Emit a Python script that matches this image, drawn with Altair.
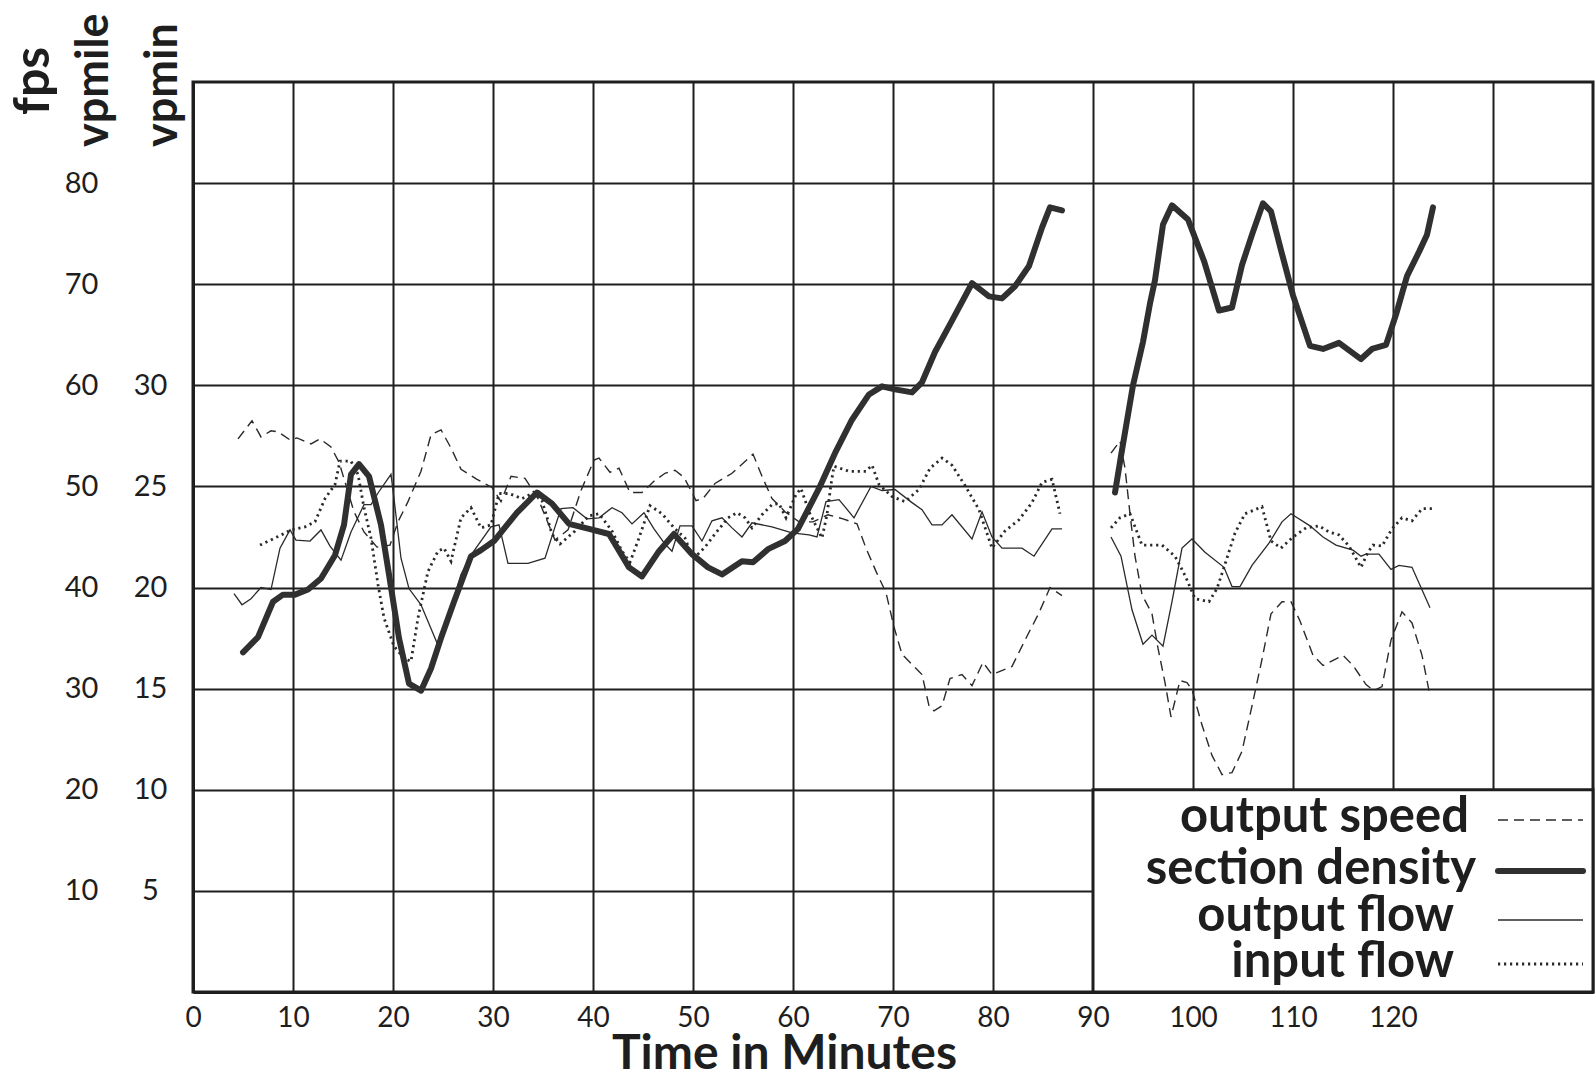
import altair as alt
import pandas as pd

# ---------------- data (values read on the left "fps" scale of the chart) ----------------
density_t_1 = [5.0, 6.5, 8.0, 9.0, 10.2, 11.5, 12.8, 14.2, 15.1, 15.8, 16.6, 17.6, 18.8, 19.6, 20.6, 21.6,
               22.8, 23.8, 24.8, 26.1, 27.8, 28.8, 30.1, 32.4, 34.4, 35.9, 37.6, 39.6, 41.6, 43.6, 44.9,
               46.6, 48.1, 49.9, 51.5, 52.9, 54.9, 56.0, 57.5, 59.2, 60.5, 62.6, 64.3, 65.9, 67.6, 68.9,
               70.2, 71.9, 72.9, 74.2, 75.9, 77.9, 79.6, 80.9, 82.2, 83.6, 84.9, 85.7, 86.9]
density_v_1 = [33.6, 35.1, 38.6, 39.3, 39.3, 39.8, 40.9, 43.2, 46.2, 51.2, 52.2, 51.0, 46.2, 41.3, 35.0, 30.5,
               29.8, 32.0, 35.0, 38.6, 43.1, 43.7, 44.6, 47.4, 49.4, 48.3, 46.3, 45.8, 45.3, 42.0, 41.1,
               43.6, 45.3, 43.3, 42.0, 41.3, 42.6, 42.5, 43.8, 44.6, 45.8, 49.8, 53.5, 56.6, 59.1, 59.9,
               59.6, 59.3, 60.3, 63.3, 66.4, 70.1, 68.8, 68.6, 69.8, 71.8, 75.6, 77.6, 77.3]
density_t_2 = [92.2, 92.8, 94.0, 95.0, 95.7, 96.2, 97.0, 97.9, 99.5, 101.1, 102.6, 103.9, 104.9, 105.9,
               107.0, 107.8, 108.9, 110.0, 111.7, 113.0, 114.6, 116.8, 117.9, 119.3, 120.3, 121.4, 122.6,
               123.4, 124.0]
density_v_2 = [49.4, 53.0, 60.0, 64.3, 68.1, 70.4, 75.9, 77.8, 76.4, 72.3, 67.4, 67.7, 71.9, 74.9,
               78.0, 77.2, 73.0, 68.9, 63.9, 63.6, 64.2, 62.6, 63.6, 64.0, 67.0, 70.8, 73.2,
               74.9, 77.6]

speed_t_1 = [4.5, 5.9, 6.8, 7.8, 8.5, 9.7, 10.4, 11.8, 12.7, 13.8, 14.6, 16.1, 17.1, 18.4, 19.7, 20.5,
             21.5, 22.8, 23.8, 24.8, 25.8, 26.8, 28.4, 29.9, 30.8, 31.8, 33.2, 34.5, 36.2, 37.5, 38.8,
             40.1, 40.6, 41.7, 42.6, 43.7, 44.9, 46.2, 47.2, 48.2, 49.1, 49.9, 50.3, 51.0, 52.2, 53.9,
             56.0, 56.9, 57.9, 59.2, 60.6, 62.0, 63.5, 65.0, 66.4, 67.3, 68.3, 69.3, 70.1, 70.9, 71.9,
             72.9, 73.6, 74.1, 74.9, 75.7, 76.9, 77.9, 79.0, 79.9, 81.9, 83.2, 84.6, 85.7, 86.9]
speed_v_1 = [54.7, 56.5, 54.9, 55.5, 55.4, 54.6, 54.8, 54.2, 54.7, 53.9, 52.4, 47.5, 45.5, 44.0, 44.2, 46.5,
             48.5, 51.5, 55.1, 55.6, 53.8, 51.7, 50.7, 49.9, 48.5, 51.0, 50.8, 48.8, 44.7, 45.7, 49.6,
             52.6, 52.8, 51.4, 51.8, 49.4, 49.4, 50.6, 51.3, 51.6, 50.9, 49.4, 48.6, 48.8, 50.3, 51.3,
             53.2, 51.0, 48.8, 47.5, 46.5, 46.5, 47.2, 46.8, 46.3, 43.9, 41.6, 39.5, 36.1, 33.4, 32.4,
             31.4, 28.3, 27.8, 28.3, 31.0, 31.4, 30.3, 32.6, 31.4, 32.2, 34.8, 37.5, 40.0, 39.2]
speed_t_2 = [91.8, 92.7, 93.2, 93.7, 94.2, 94.9, 95.9, 96.5, 97.2, 97.8, 98.7, 99.4, 99.9, 100.9, 101.9,
             102.9, 103.9, 104.9, 105.9, 106.9, 107.8, 108.9, 109.8, 110.7, 112.0, 113.0, 115.0, 116.0,
             117.3, 118.1, 118.9, 119.8, 120.9, 121.9, 122.9, 123.7]
speed_v_2 = [53.3, 54.5, 51.8, 47.3, 43.1, 39.3, 37.4, 34.0, 30.6, 27.2, 30.8, 30.6, 29.9, 26.4, 23.4,
             21.5, 21.7, 23.8, 28.3, 32.9, 37.4, 38.6, 38.6, 36.7, 33.3, 32.3, 33.3, 32.3,
             30.4, 29.8, 30.2, 34.8, 37.6, 36.5, 33.3, 29.3]

outflow_t_1 = [4.1, 4.9, 5.8, 6.8, 7.8, 8.7, 9.7, 10.3, 11.7, 12.8, 13.7, 14.8, 15.8, 17.1, 17.8, 18.6,
               19.8, 20.1, 20.8, 21.6, 22.8, 24.5, 25.2, 26.8, 27.8, 29.8, 30.6, 31.5, 33.5, 35.2, 36.2,
               36.8, 38.0, 39.4, 40.6, 41.9, 42.9, 43.9, 45.1, 46.1, 47.2, 47.9, 48.7, 49.9, 50.9, 51.9,
               52.9, 53.9, 54.9, 55.9, 57.9, 59.9, 61.6, 62.4, 63.3, 64.6, 66.1, 67.8, 68.9, 70.2, 71.9,
               72.9, 73.9, 74.9, 75.9, 77.9, 78.9, 79.9, 80.9, 82.9, 84.1, 85.9, 86.9]
outflow_v_1 = [39.4, 38.3, 38.9, 40.0, 39.8, 43.9, 45.7, 44.7, 44.6, 45.7, 44.1, 42.7, 45.5, 48.2, 48.2, 49.5,
               51.2, 48.8, 42.9, 39.9, 38.3, 34.3, 36.0, 41.3, 43.2, 46.0, 46.2, 42.4, 42.4, 42.9, 46.0,
               47.8, 47.9, 46.8, 46.9, 47.9, 47.4, 46.3, 47.4, 45.8, 44.3, 43.6, 46.1, 46.1, 44.6, 46.6,
               46.9, 45.9, 45.0, 46.4, 46.0, 45.4, 45.2, 45.0, 48.5, 48.7, 46.9, 50.0, 49.6, 49.7, 48.4,
               47.7, 46.2, 46.2, 47.2, 44.8, 47.5, 45.0, 43.9, 43.9, 43.1, 45.8, 45.8]
outflow_t_2 = [91.8, 92.8, 93.9, 95.0, 95.9, 97.0, 97.9, 98.9, 99.9, 101.2, 103.1, 103.9, 104.7, 105.9,
               107.6, 108.9, 109.8, 111.7, 113.0, 114.3, 116.0, 116.8, 117.3, 118.6, 119.8, 120.6, 121.9,
               123.7]
outflow_v_2 = [45.0, 43.1, 37.8, 34.4, 35.3, 34.2, 38.6, 43.9, 44.8, 43.5, 42.0, 40.1, 40.1, 42.2,
               44.4, 46.5, 47.3, 46.1, 45.0, 44.2, 43.7, 43.1, 43.3, 43.3, 41.8, 42.2, 42.0,
               38.0]

inflow_t_1 = [6.7, 8.2, 9.8, 11.2, 12.2, 13.2, 14.2, 14.7, 15.8, 16.5, 17.1, 17.8, 18.5, 19.1, 20.1, 21.1,
              21.8, 22.5, 23.5, 24.5, 25.1, 25.8, 26.8, 27.8, 28.8, 29.8, 30.6, 31.6, 32.9, 34.1, 34.9,
              35.9, 36.7, 38.2, 39.6, 40.6, 41.9, 42.9, 43.7, 44.6, 45.7, 46.9, 48.2, 49.2, 50.0, 51.2,
              52.2, 53.5, 54.4, 55.2, 55.9, 56.9, 57.9, 58.6, 59.3, 60.3, 60.8, 61.6, 62.9, 63.4, 63.8,
              64.1, 65.6, 67.3, 67.9, 68.6, 69.9, 71.2, 72.6, 73.7, 74.9, 75.9, 77.2, 78.6, 79.9, 81.2,
              82.6, 83.9, 84.9, 85.9, 86.7]
inflow_v_1 = [44.2, 44.9, 45.7, 46.0, 46.5, 48.8, 50.2, 52.5, 52.5, 51.2, 47.9, 44.9, 40.3, 37.0, 34.2, 33.0,
              32.7, 37.0, 41.6, 43.6, 43.9, 42.6, 46.9, 47.9, 45.9, 46.2, 49.3, 49.3, 48.8, 49.4, 48.6,
              45.3, 44.3, 45.6, 47.1, 47.3, 45.6, 43.6, 42.5, 44.9, 48.1, 47.3, 45.8, 44.9, 42.8, 44.0,
              45.3, 46.9, 47.4, 46.9, 45.9, 47.2, 48.2, 48.3, 46.9, 49.2, 49.8, 47.5, 44.9, 47.2, 50.2,
              52.0, 51.5, 51.5, 52.1, 50.2, 49.0, 48.5, 49.7, 51.8, 52.8, 52.1, 50.1, 47.7, 43.9, 45.6,
              46.7, 48.4, 50.4, 50.7, 47.3]
inflow_t_2 = [91.8, 92.7, 93.7, 94.9, 96.9, 98.2, 99.2, 100.2, 101.6, 102.4, 103.2, 104.2, 105.2, 106.2,
              106.9, 107.8, 108.8, 110.0, 111.3, 112.6, 113.6, 114.6, 115.6, 116.8, 117.5, 118.0, 118.9,
              119.9, 120.9, 121.9, 122.9, 123.9]
inflow_v_2 = [45.9, 46.9, 47.3, 44.2, 44.2, 43.1, 41.2, 38.9, 38.6, 39.9, 42.3, 45.4, 47.3, 47.7,
              48.0, 44.6, 43.9, 45.0, 45.9, 46.1, 45.5, 45.2, 44.1, 42.0, 43.5, 44.2, 44.1,
              45.8, 46.9, 46.6, 47.8, 47.8]

x_ticks = [0, 10, 20, 30, 40, 50, 60, 70, 80, 90, 100, 110, 120, 130]
x_last_label = 120
fps_ticks = [10, 20, 30, 40, 50, 60, 70, 80]
vpmile_ticks = [10, 20, 30, 40, 50, 60]          # positions on fps scale, labelled value/2
column_titles = ["fps", "vpmile", "vpmin"]
legend_labels = ["output speed", "section density", "output flow", "input flow"]
x_title = "Time in Minutes"


def series_df(parts):
    rows = []
    for i, (ts, vs) in enumerate(parts):
        for t, v in zip(ts, vs):
            rows.append({"part": i, "t": t, "v": v})
    return pd.DataFrame(rows)


speed_df = series_df([(speed_t_1, speed_v_1), (speed_t_2, speed_v_2)])
density_df = series_df([(density_t_1, density_v_1), (density_t_2, density_v_2)])
outflow_df = series_df([(outflow_t_1, outflow_v_1), (outflow_t_2, outflow_v_2)])
inflow_df = series_df([(inflow_t_1, inflow_v_1), (inflow_t_2, inflow_v_2)])

# ---------------- styling ----------------
W, H = 1400, 910
FONT = "Lato"
INK = "#1e1e1e"
LINE = "#2a2a2a"

x_scale = alt.Scale(domain=[0, 140], nice=False, zero=False)
y_scale = alt.Scale(domain=[0, 90], nice=False, zero=False)

x_axis = alt.Axis(
    values=x_ticks,
    labelExpr=f"datum.value <= {x_last_label} ? datum.label : ''",
    grid=True, gridColor=INK, gridWidth=2, gridOpacity=1,
    domain=True, domainColor=INK, domainWidth=3,
    ticks=False, tickSize=0, labelPadding=12,
    labelFont=FONT, labelFontSize=28, labelColor=INK, labelFlush=False,
    title=x_title, titleFont=FONT, titleFontSize=48, titleFontWeight="bold", titleColor=INK,
    titleX=591, titleY=76, titleAlign="center", titleBaseline="alphabetic", titleAnchor="start",
)
y_axis = alt.Axis(
    values=fps_ticks,
    grid=True, gridColor=INK, gridWidth=2, gridOpacity=1,
    domain=True, domainColor=INK, domainWidth=3,
    ticks=False, tickSize=0, labelPadding=112, labelAlign="center", labelBaseline="middle",
    labelFont=FONT, labelFontSize=29, labelColor=INK, title=None,
)
vpmile_axis = alt.Axis(
    orient="left", values=vpmile_ticks, labelExpr="datum.value / 2",
    grid=False, domain=False, ticks=False, tickSize=0,
    labelPadding=43, labelAlign="center", labelBaseline="middle",
    labelFont=FONT, labelFontSize=29, labelColor=INK, title=None,
)

styles = {
    "speed": dict(stroke=LINE, strokeWidth=1.4, strokeDash=[10, 6]),
    "density": dict(stroke="#303030", strokeWidth=6, strokeCap="round", strokeJoin="round"),
    "outflow": dict(stroke=LINE, strokeWidth=1.3),
    "inflow": dict(stroke=LINE, strokeWidth=2.8, strokeDash=[2.2, 3.8]),
}


def line_layer(df, style):
    return alt.Chart(df).mark_line(**style).encode(
        x=alt.X("t:Q", scale=x_scale, axis=x_axis),
        y=alt.Y("v:Q", scale=y_scale, axis=y_axis),
        detail="part:N",
        order="t:Q",
    )


layers = [
    line_layer(speed_df, styles["speed"]),
    line_layer(inflow_df, styles["inflow"]),
    line_layer(outflow_df, styles["outflow"]),
    line_layer(density_df, styles["density"]),
]

one = pd.DataFrame({"k": [0]})

# legend box (white panel over the lower-right grid cells, minutes 90-140, 0-20 on the scale)
layers.append(
    alt.Chart(one).mark_rect(fill="white", stroke=INK, strokeWidth=3).encode(
        x=alt.value(W * 90 / 140), x2=alt.value(W), y=alt.value(H - H * 20 / 90), y2=alt.value(H)
    )
)

leg_text_x = [1276, 1283, 1261, 1261]
leg_text_y = [750, 802, 849, 895]
leg_sym_y = [738, 789, 838, 882]
leg_styles = [styles["speed"], styles["density"], styles["outflow"], styles["inflow"]]
for lab, tx, ty, sy, st in zip(legend_labels, leg_text_x, leg_text_y, leg_sym_y, leg_styles):
    layers.append(
        alt.Chart(one).mark_text(align="right", baseline="alphabetic", font=FONT, fontSize=49,
                                 fontWeight="bold", color=INK).encode(
            x=alt.value(tx), y=alt.value(ty), text=alt.value(lab))
    )
    layers.append(
        alt.Chart(one).mark_rule(**st).encode(x=alt.value(1305), x2=alt.value(1390), y=alt.value(sy))
    )

# rotated unit headings
title_x = [-144, -85, -16]
title_y = [33, 65, 65]
title_size = [50, 45, 45]
for lab, tx, ty, fs in zip(column_titles, title_x, title_y, title_size):
    layers.append(
        alt.Chart(one).mark_text(align="left", baseline="alphabetic", angle=270, font=FONT,
                                 fontSize=fs, fontWeight="bold", color=INK).encode(
            x=alt.value(tx), y=alt.value(ty), text=alt.value(lab))
    )

main = alt.layer(*layers)

vp_layer = alt.Chart(pd.DataFrame({"v": vpmile_ticks})).mark_point(opacity=0).encode(
    y=alt.Y("v:Q", scale=y_scale, axis=vpmile_axis)
)

chart = alt.layer(main, vp_layer).resolve_scale(y="independent").properties(
    width=W, height=H,
    autosize=alt.AutoSizeParams(type="none"),
    padding={"left": 193, "top": 82, "right": 3, "bottom": 85},
    background="white",
).configure_view(stroke=INK, strokeWidth=3)

chart.save("out.html", embed_options={"renderer": "svg", "actions": False})
